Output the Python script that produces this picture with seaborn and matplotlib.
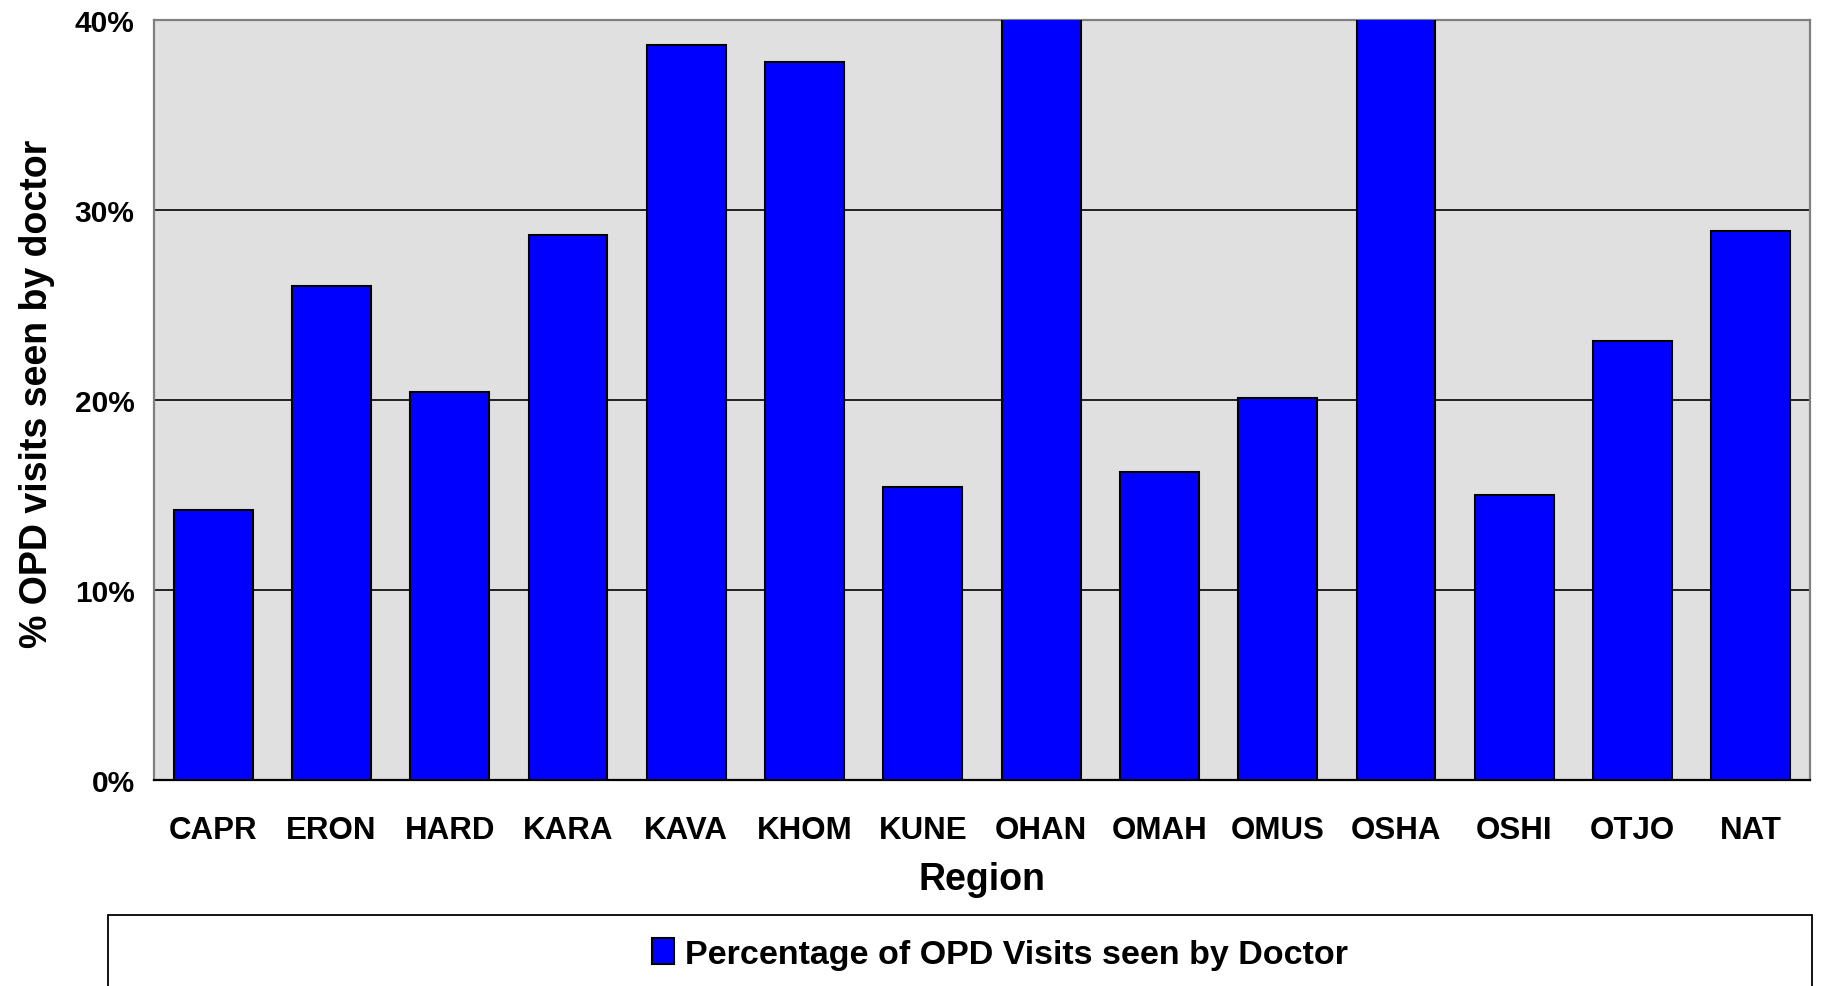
import matplotlib
matplotlib.use("Agg")
import matplotlib.pyplot as plt
import seaborn as sns
import pandas as pd
from matplotlib.ticker import PercentFormatter, FixedLocator
from matplotlib.patches import Rectangle, Patch

# ---- data ----
regions = ["CAPR", "ERON", "HARD", "KARA", "KAVA", "KHOM", "KUNE",
           "OHAN", "OMAH", "OMUS", "OSHA", "OSHI", "OTJO", "NAT"]
# percent of OPD visits seen by doctor (OHAN and OSHA exceed the 40% axis limit)
pct_doctor = [14.2, 26.0, 20.4, 28.7, 38.7, 37.8, 15.4,
              44.0, 16.2, 20.1, 44.0, 15.0, 23.1, 28.9]
y_ticks = [0, 10, 20, 30, 40]
series_name = "Percentage of OPD Visits seen by Doctor"
x_title = "Region"
y_title = "% OPD visits seen by doctor"

df = pd.DataFrame({"Region": regions, "Pct": pct_doctor})

sns.set_theme(style="white")
plt.rcParams["font.family"] = ["Liberation Sans", "DejaVu Sans"]
plt.rcParams["font.weight"] = "bold"
for k in ["text.color", "axes.labelcolor", "xtick.labelcolor", "ytick.labelcolor"]:
    plt.rcParams[k] = "black"

W, H = 1822, 987
fig = plt.figure(figsize=(W / 100, H / 100), dpi=100)
L, R, T, B = 154, 1810, 21, 781
ax = fig.add_axes([L / W, 1 - B / H, (R - L) / W, (B - T) / H])
ax.set_facecolor("#E0E0E0")

sns.barplot(data=df, x="Region", y="Pct", ax=ax, color="#0000FF",
            saturation=1, edgecolor="black", linewidth=1.5, width=0.667,
            zorder=3)

ax.set_xlim(-0.5, len(regions) - 0.5)
ax.set_ylim(0, 40)
ax.yaxis.set_major_locator(FixedLocator(y_ticks))
ax.yaxis.set_major_formatter(PercentFormatter(xmax=100, decimals=0))
ax.grid(axis="y", color="black", linewidth=1.2, zorder=1)
ax.set_axisbelow(True)

# tick styling
ax.tick_params(axis="y", which="major", direction="out", length=8, width=1.2,
               color="black", labelcolor="black", labelsize=21.5, pad=6)
ax.tick_params(axis="x", which="major", length=0, labelsize=22.5, pad=25,
               labelcolor="black")
ax.set_xticks([i - 0.5 for i in range(len(regions) + 1)], minor=True)
ax.tick_params(axis="x", which="minor", direction="out", length=9, width=1.2,
               color="#555555")
for lab in ax.get_xticklabels() + ax.get_yticklabels():
    lab.set_fontweight("bold")
    lab.set_color("black")

ax.set_xlabel(x_title, fontsize=27, fontweight="bold", labelpad=12, color="black")
ax.set_ylabel(y_title, fontsize=27, fontweight="bold", labelpad=14, color="black")
ax.yaxis.label.set_y(0.51)

for side in ["top", "right", "left"]:
    ax.spines[side].set_color("#808080")
    ax.spines[side].set_linewidth(1.6)
ax.spines["bottom"].set_color("black")
ax.spines["bottom"].set_linewidth(1.6)

# legend box at the bottom (clipped by figure edge)
box = Rectangle((108 / W, -0.05), (1812 - 108) / W, (987 - 916) / H + 0.05,
                transform=fig.transFigure, fill=False, edgecolor="black",
                linewidth=1.3)
fig.patches.append(box)
handle = Patch(facecolor="#0000FF", edgecolor="black", linewidth=1.5)
leg = fig.legend([handle], [series_name], loc="center",
                 bbox_to_anchor=(1000 / W, 1 - 955 / H),
                 frameon=False, prop={"weight": "bold", "size": 24.5},
                 handlelength=0.65, handleheight=0.8, handletextpad=0.3)
for t in leg.get_texts():
    t.set_color("black")

fig.savefig("out.png", dpi=100)
